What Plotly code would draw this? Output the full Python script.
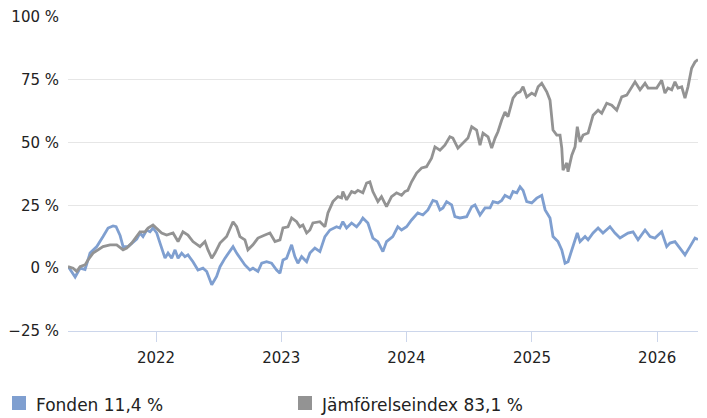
import plotly.graph_objects as go
import pandas as pd

# ---- data (dates as decimal years, values in %) ----
fund_t = [2021.300, 2021.354, 2021.393, 2021.433, 2021.473, 2021.527, 2021.577, 2021.617, 2021.657, 2021.681,
          2021.713, 2021.737, 2021.777, 2021.806, 2021.846, 2021.872, 2021.896, 2021.926, 2021.952, 2021.976,
          2022.006, 2022.032, 2022.072, 2022.096, 2022.125, 2022.152, 2022.176, 2022.205, 2022.231, 2022.255,
          2022.295, 2022.335, 2022.375, 2022.405, 2022.445, 2022.484, 2022.511, 2022.551, 2022.591, 2022.615,
          2022.644, 2022.684, 2022.710, 2022.750, 2022.774, 2022.814, 2022.844, 2022.883, 2022.923, 2022.963,
          2022.990, 2023.014, 2023.043, 2023.083, 2023.109, 2023.133, 2023.163, 2023.203, 2023.229, 2023.269,
          2023.309, 2023.349, 2023.389, 2023.442, 2023.468, 2023.492, 2023.522, 2023.562, 2023.602, 2023.628,
          2023.652, 2023.692, 2023.732, 2023.772, 2023.812, 2023.841, 2023.891, 2023.931, 2023.961, 2024.001,
          2024.041, 2024.091, 2024.131, 2024.171, 2024.211, 2024.240, 2024.267, 2024.291, 2024.320, 2024.360,
          2024.386, 2024.426, 2024.480, 2024.520, 2024.546, 2024.586, 2024.626, 2024.666, 2024.690, 2024.729,
          2024.759, 2024.785, 2024.825, 2024.849, 2024.879, 2024.905, 2024.929, 2024.958, 2024.998, 2025.038,
          2025.078, 2025.105, 2025.144, 2025.168, 2025.208, 2025.238, 2025.264, 2025.288, 2025.328, 2025.362,
          2025.384, 2025.424, 2025.448, 2025.488, 2025.528, 2025.567, 2025.623, 2025.663, 2025.703, 2025.743,
          2025.767, 2025.807, 2025.847, 2025.903, 2025.943, 2025.982, 2026.036, 2026.076, 2026.102, 2026.142,
          2026.182, 2026.222, 2026.262, 2026.302, 2026.326]
fund_v = [0.6, -3.5, 0.0, -0.5, 6.0, 8.6, 12.6, 16.0, 16.8, 16.5,
          13.0, 8.6, 8.6, 10.0, 11.6, 14.0, 12.6, 15.2, 14.5, 16.0,
          14.0, 10.0, 4.0, 6.0, 4.0, 7.3, 4.0, 6.0, 4.6, 5.3,
          2.6, -0.7, 0.0, -1.3, -6.6, -3.3, 0.6, 4.0, 6.6, 8.6,
          6.0, 3.3, 1.3, -0.7, 0.0, -1.3, 2.0, 2.6, 2.0, -0.7,
          -2.0, 3.3, 4.0, 9.3, 4.6, 2.0, 4.6, 2.6, 6.0, 8.0,
          6.6, 12.6, 15.2, 16.5, 16.0, 18.5, 16.0, 18.0, 16.5, 18.0,
          20.0, 18.0, 12.0, 10.6, 6.6, 10.6, 12.6, 16.5, 15.2, 16.5,
          19.2, 22.0, 21.2, 23.2, 27.0, 26.5, 23.2, 24.0, 26.5, 25.2,
          20.5, 20.0, 20.5, 24.5, 25.2, 21.2, 24.0, 24.0, 26.5, 26.0,
          27.0, 29.0, 27.9, 30.5, 30.0, 32.4, 31.0, 26.5, 26.0, 27.9,
          29.0, 23.2, 20.0, 12.6, 10.6, 7.3, 2.0, 2.6, 8.6, 14.0,
          10.6, 12.6, 11.3, 14.0, 16.0, 14.0, 16.5, 14.0, 12.0, 13.2,
          14.0, 14.5, 11.3, 15.2, 12.6, 12.0, 14.5, 8.6, 10.0, 10.6,
          8.0, 5.3, 8.6, 12.0, 11.4]

index_t = [2021.297, 2021.338, 2021.367, 2021.393, 2021.433, 2021.457, 2021.497, 2021.537, 2021.577, 2021.633,
           2021.686, 2021.737, 2021.766, 2021.806, 2021.872, 2021.912, 2021.936, 2021.976, 2022.016, 2022.045,
           2022.085, 2022.136, 2022.176, 2022.215, 2022.255, 2022.295, 2022.351, 2022.391, 2022.415, 2022.445,
           2022.471, 2022.511, 2022.564, 2022.615, 2022.644, 2022.670, 2022.710, 2022.734, 2022.774, 2022.814,
           2022.870, 2022.910, 2022.950, 2022.990, 2023.014, 2023.054, 2023.083, 2023.123, 2023.149, 2023.173,
           2023.203, 2023.229, 2023.253, 2023.309, 2023.349, 2023.373, 2023.413, 2023.453, 2023.482, 2023.492,
           2023.522, 2023.562, 2023.588, 2023.612, 2023.652, 2023.682, 2023.708, 2023.732, 2023.772, 2023.801,
           2023.841, 2023.881, 2023.921, 2023.961, 2023.987, 2024.011, 2024.041, 2024.081, 2024.121, 2024.160,
           2024.200, 2024.227, 2024.267, 2024.306, 2024.346, 2024.370, 2024.410, 2024.450, 2024.490, 2024.520,
           2024.559, 2024.586, 2024.610, 2024.650, 2024.679, 2024.706, 2024.729, 2024.759, 2024.785, 2024.809,
           2024.849, 2024.879, 2024.905, 2024.929, 2024.958, 2024.998, 2025.025, 2025.049, 2025.078, 2025.118,
           2025.144, 2025.168, 2025.198, 2025.224, 2025.238, 2025.248, 2025.278, 2025.288, 2025.318, 2025.344,
           2025.362, 2025.384, 2025.408, 2025.448, 2025.488, 2025.528, 2025.557, 2025.597, 2025.637, 2025.677,
           2025.717, 2025.757, 2025.783, 2025.823, 2025.863, 2025.903, 2025.927, 2025.966, 2025.996, 2026.036,
           2026.062, 2026.086, 2026.116, 2026.142, 2026.166, 2026.196, 2026.222, 2026.246, 2026.275, 2026.302,
           2026.326]
index_v = [0.6, 0.0, -1.3, 0.6, 1.3, 3.3, 6.0, 7.3, 8.6, 9.3,
           9.3, 7.3, 8.0, 10.0, 14.5, 14.5, 16.0, 17.2, 15.2, 14.0,
           13.2, 14.0, 10.6, 14.5, 13.2, 10.6, 8.6, 10.6, 7.3, 4.0,
           6.0, 10.0, 12.6, 18.5, 16.5, 12.6, 11.3, 7.3, 9.3, 12.0,
           13.2, 14.0, 10.6, 11.3, 16.0, 16.5, 20.0, 18.5, 16.5, 17.2,
           14.0, 15.2, 18.0, 18.5, 16.5, 22.0, 26.5, 28.5, 28.0, 30.5,
           27.2, 30.5, 30.0, 31.0, 30.0, 33.9, 34.4, 30.5, 26.5, 28.5,
           24.5, 28.5, 30.0, 29.0, 30.5, 31.0, 34.4, 37.9, 39.9, 40.4,
           43.8, 48.3, 47.0, 49.0, 52.3, 51.8, 47.8, 49.8, 51.8, 56.3,
           55.0, 49.0, 53.8, 52.3, 47.8, 51.8, 54.3, 59.0, 62.2, 60.3,
           67.7, 69.7, 70.2, 72.2, 68.2, 69.7, 68.9, 72.2, 73.6, 70.2,
           66.9, 55.0, 53.0, 53.0, 47.8, 39.0, 41.9, 38.4, 45.0, 48.3,
           56.3, 50.3, 53.0, 53.8, 60.9, 62.9, 61.7, 65.7, 64.9, 62.9,
           68.2, 68.9, 71.0, 74.2, 71.0, 73.6, 71.7, 71.7, 71.7, 74.8,
           69.7, 71.7, 71.0, 74.2, 71.7, 72.2, 67.7, 72.2, 79.6, 82.1,
           83.1]

series_names = ["Fonden 11,4 %", "Jämförelseindex 83,1 %"]
series_colors = ["#7f9fd0", "#939393"]

y_tick_vals = [-25, 0, 25, 50, 75, 100]
y_tick_text = ["−25 %", "0 %", "25 %", "50 %", "75 %", "100 %"]
x_tick_years = [2022, 2023, 2024, 2025, 2026]


def dec_to_ts(t):
    y = int(t)
    start = pd.Timestamp(y, 1, 1)
    end = pd.Timestamp(y + 1, 1, 1)
    return start + (end - start) * (t - y)


fund_x = [dec_to_ts(t) for t in fund_t]
index_x = [dec_to_ts(t) for t in index_t]

# the page body adds an 8px offset; size the figure to fill the rest of the window
OFF = 8
W, H = 707 - OFF, 418 - OFF
L, R, T, B = 68 - OFF, 9, 17 - OFF, 87

fig = go.Figure()
fig.add_trace(go.Scatter(x=fund_x, y=fund_v, mode="lines", name=series_names[0],
                         line=dict(color=series_colors[0], width=2.8), showlegend=False,
                         hoverinfo="skip"))
fig.add_trace(go.Scatter(x=index_x, y=index_v, mode="lines", name=series_names[1],
                         line=dict(color=series_colors[1], width=2.8), showlegend=False,
                         hoverinfo="skip"))

# manual legend (squares + text) below the plot; positions given in page pixels
pw, ph = W - L - R, H - T - B


def px_x(x):
    return (x - OFF - L) / pw


def px_y(y):
    return (H - B - (y - OFF)) / ph


legend_items = [(12, 34), (298, 319)]
shapes = []
annotations = []
for (sx, tx), name, col in zip(legend_items, series_names, series_colors):
    shapes.append(dict(type="rect", xref="paper", yref="paper",
                       x0=px_x(sx), x1=px_x(sx + 14), y0=px_y(410), y1=px_y(396),
                       fillcolor=col, line=dict(width=0)))
    annotations.append(dict(xref="paper", yref="paper", x=px_x(tx), y=px_y(405),
                            text=name, showarrow=False, xanchor="left", yanchor="middle",
                            font=dict(family="DejaVu Sans", size=17, color="#222222")))

fig.update_layout(
    width=W, height=H,
    margin=dict(l=L, r=R, t=T, b=B, autoexpand=False),
    paper_bgcolor="white", plot_bgcolor="white",
    showlegend=False,
    shapes=shapes,
    annotations=annotations,
    xaxis=dict(
        type="date", automargin=False,
        range=[min(fund_x[0], index_x[0]), max(fund_x[-1], index_x[-1])],
        tickvals=[pd.Timestamp(y, 1, 1) for y in x_tick_years],
        ticktext=[str(y) for y in x_tick_years],
        showgrid=False, zeroline=False,
        showline=True, linecolor="#ccd6eb", linewidth=1,
        ticks="outside", ticklen=10, tickcolor="#ccd6eb", tickwidth=1,
        ticklabelstandoff=3,
        tickfont=dict(family="DejaVu Sans", size=15, color="#222222"),
    ),
    yaxis=dict(
        automargin=False,
        range=[-25, 100],
        tickvals=y_tick_vals, ticktext=y_tick_text,
        showgrid=True, gridcolor="#e6e6e6", gridwidth=1,
        zeroline=False, showline=False, ticks="",
        ticklabelstandoff=8,
        tickfont=dict(family="DejaVu Sans", size=15, color="#222222"),
    ),
)

fig.write_html("out.html")
